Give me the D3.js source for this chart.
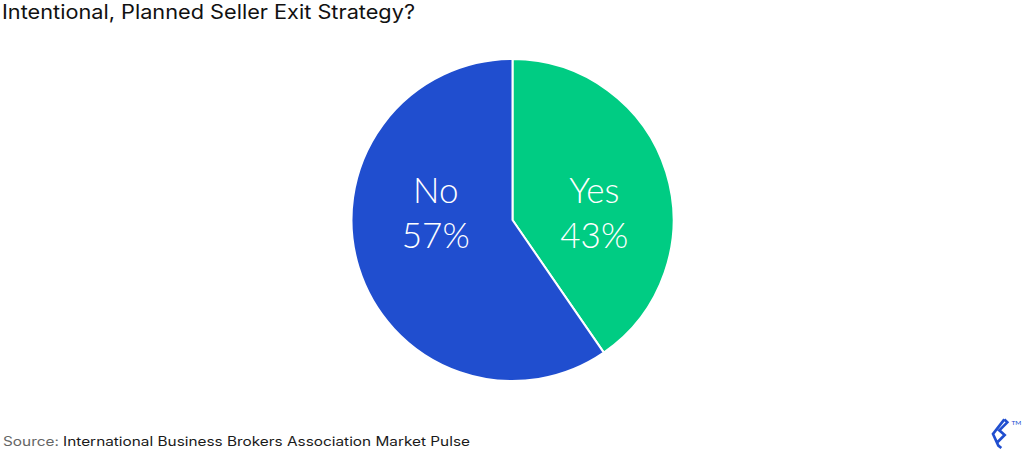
<!DOCTYPE html>
<html>
<head>
<meta charset="utf-8">
<script src="https://cdn.jsdelivr.net/npm/d3@7"></script>
<style>
  html, body { margin: 0; padding: 0; background: #fff; }
  svg { display: block; }
</style>
</head>
<body>
<svg id="chart" width="1024" height="455"></svg>
<script>
// ---- data ----
const categories = ["Yes", "No"];
const labelPercents = [43, 57];          // values printed on the slices
const sliceShares = [40.4, 59.6];        // slice sizes as drawn in the picture
const colors = ["#00CC83", "#204ECF"];
const titleText = "Intentional, Planned Seller Exit Strategy?";
const sourceLabel = "Source:";
const sourceText = "International Business Brokers Association Market Pulse";

const svg = d3.select("#chart");
const cx = 512.5, cy = 220, R = 161;
const font = "Inter, 'Open Sans', sans-serif";

// title
svg.append("text")
  .attr("x", 2).attr("y", 18.5)
  .attr("font-family", font)
  .attr("font-size", 19.5)
  .attr("fill", "#111")
  .attr("textLength", 413)
  .attr("lengthAdjust", "spacingAndGlyphs")
  .text(titleText);

// pie
const data = categories.map((c, i) => ({ cat: c, share: sliceShares[i], pct: labelPercents[i], color: colors[i] }));
const pie = d3.pie().sort(null).value(d => d.share);
const arc = d3.arc().innerRadius(0).outerRadius(R);
const labelArc = d3.arc().innerRadius(83).outerRadius(83);

const g = svg.append("g").attr("transform", `translate(${cx},${cy})`);
const arcs = pie(data);
g.selectAll("path.slice").data(arcs).join("path")
  .attr("class", "slice")
  .attr("d", arc)
  .attr("fill", d => d.data.color)
  .attr("stroke", "#fff")
  .attr("stroke-width", 2)
  .attr("stroke-linejoin", "miter");

const lbl = g.selectAll("g.lbl").data(arcs).join("g")
  .attr("class", "lbl")
  .attr("transform", d => `translate(${labelArc.centroid(d)[0] + 2.5},0)`);
lbl.append("text")
  .attr("text-anchor", "middle")
  .attr("y", -17)
  .attr("font-family", "Lato, 'Open Sans', sans-serif")
  .attr("font-weight", 300)
  .attr("font-size", 35)
  .attr("fill", "#fff")
  .text(d => d.data.cat);
lbl.append("text")
  .attr("text-anchor", "middle")
  .attr("y", 28)
  .attr("font-family", "Lato, 'Open Sans', sans-serif")
  .attr("font-weight", 300)
  .attr("font-size", 35)
  .attr("fill", "#fff")
  .text(d => d.data.pct + "%");

// source
const src = svg.append("text")
  .attr("x", 3).attr("y", 446)
  .attr("font-family", font)
  .attr("font-size", 12.5)
  .attr("textLength", 467)
  .attr("lengthAdjust", "spacingAndGlyphs");
src.append("tspan").attr("fill", "#666").text(sourceLabel + " ");
src.append("tspan").attr("fill", "#1a1a1a").text(sourceText);

// logo (toptal mark)
const logo = svg.append("g").attr("transform", "translate(985,412) scale(0.3333)");
logo.append("path")
  .attr("d", "M58,22 L67,31 L43,55 L59,69 L38,90 M58,22 L24,66 L40,101 L49,108")
  .attr("fill", "none")
  .attr("stroke", "#204ECF")
  .attr("stroke-width", 8)
  .attr("stroke-linejoin", "miter");
svg.append("text")
  .attr("x", 1011.5).attr("y", 425)
  .attr("font-family", "Lato, sans-serif")
  .attr("font-size", 6.5)
  .attr("fill", "#204ECF")
  .text("TM");
</script>
</body>
</html>
